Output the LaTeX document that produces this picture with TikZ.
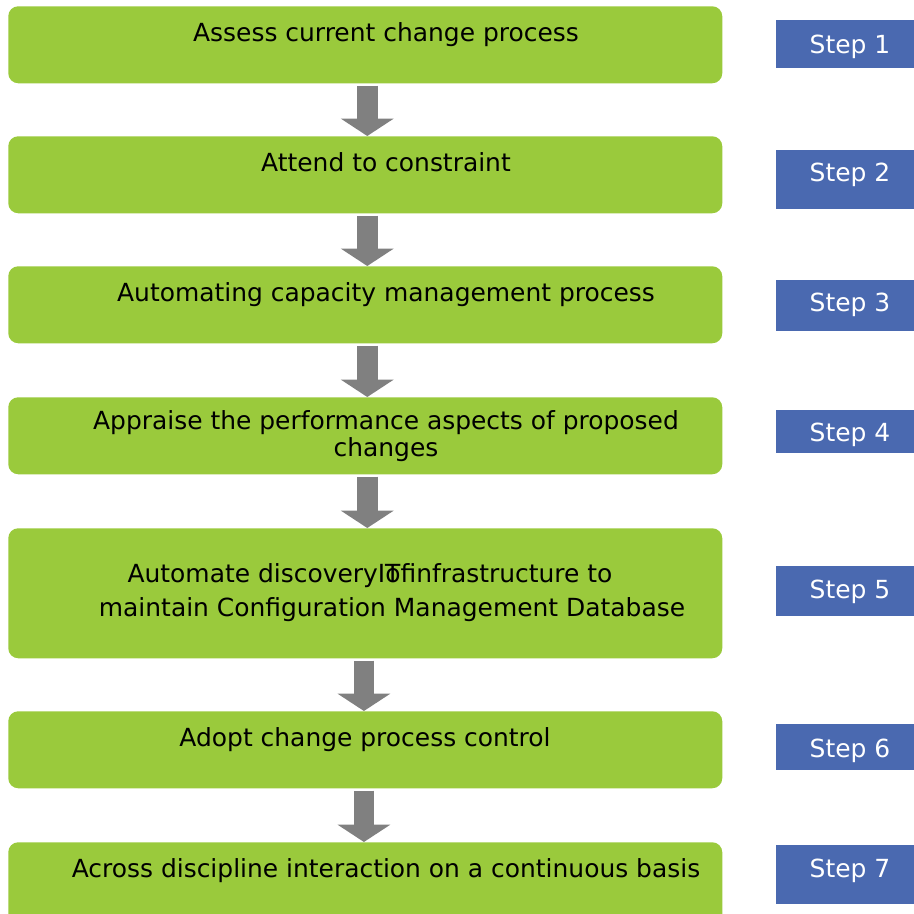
\documentclass[tikz,border=0pt]{standalone}
\usepackage{fontspec}
\setmainfont{DejaVu Sans}
\usetikzlibrary{arrows.meta}
\definecolor{boxgreen}{HTML}{9ACA3C}
\definecolor{stepblue}{HTML}{4A69B0}
\definecolor{arrowgray}{HTML}{808080}
\tikzset{
  greenbox/.style={fill=boxgreen, draw=none, rounded corners=7.5pt, inner sep=0pt, anchor=north west},
  stepbox/.style={fill=stepblue, draw=none, inner sep=0pt, anchor=north west},
  boxtext/.style={anchor=base, inner sep=0pt, font=\fontsize{18.7pt}{22pt}\selectfont, text=black},
  steptext/.style={anchor=base, inner sep=0pt, font=\fontsize{18.7pt}{22pt}\selectfont, text=white},
  flowarrow/.style={draw=arrowgray, line width=15.5pt, shorten <=1.5pt,
    -{Triangle[width=39pt, length=13pt]}},
}
\begin{document}
\begin{tikzpicture}[x=0.75pt,y=-0.75pt]
\useasboundingbox (0,0) rectangle (914,914);
\clip (0,0) rectangle (914,914);
% green boxes
\node[greenbox, minimum width=535.5pt, minimum height=57.75pt] (b1) at (8,6) {};
\node[greenbox, minimum width=535.5pt, minimum height=57.75pt] (b2) at (8,136) {};
\node[greenbox, minimum width=535.5pt, minimum height=57.75pt] (b3) at (8,266) {};
\node[greenbox, minimum width=535.5pt, minimum height=57.75pt] (b4) at (8,397) {};
\node[greenbox, minimum width=535.5pt, minimum height=97.5pt] (b5) at (8,528) {};
\node[greenbox, minimum width=535.5pt, minimum height=57.75pt] (b6) at (8,711) {};
\node[greenbox, minimum width=535.5pt, minimum height=70pt] (b7) at (8,842) {};
% texts
\node[boxtext] (t1) at (386,41) {Assess current change process};
\node[boxtext] (t2) at (386,171) {Attend to constraint};
\node[boxtext] (t3) at (386,301) {Automating capacity management process};
\node[boxtext] (t4a) at (386,429) {Appraise the performance aspects of proposed};
\node[boxtext] (t4b) at (386,456) {changes};
\node[boxtext] (t5a) at (370,582) {Automate discoveryI\rlap{T}ofinfrastructure to};
\node[boxtext] (t5b) at (392,616) {maintain Configuration Management Database};
\node[boxtext] (t6) at (365,746) {Adopt change process control};
\node[boxtext] (t7) at (386,877) {Across discipline interaction on a continuous basis};
% step boxes
\node[stepbox, minimum width=105pt, minimum height=36pt] (s1) at (776,20) {};
\node[stepbox, minimum width=105pt, minimum height=44.25pt] (s2) at (776,150) {};
\node[stepbox, minimum width=105pt, minimum height=38.25pt] (s3) at (776,280) {};
\node[stepbox, minimum width=105pt, minimum height=32.25pt] (s4) at (776,410) {};
\node[stepbox, minimum width=105pt, minimum height=37.5pt] (s5) at (776,566) {};
\node[stepbox, minimum width=105pt, minimum height=34.5pt] (s6) at (776,724) {};
\node[stepbox, minimum width=105pt, minimum height=44.25pt] (s7) at (776,845) {};
\node[steptext] (l1) at (850,53) {Step 1};
\node[steptext] (l2) at (850,181) {Step 2};
\node[steptext] (l3) at (850,311) {Step 3};
\node[steptext] (l4) at (850,441) {Step 4};
\node[steptext] (l5) at (850,598) {Step 5};
\node[steptext] (l6) at (850,757) {Step 6};
\node[steptext] (l7) at (850,877) {Step 7};
% arrows
\draw[flowarrow] ([xshift=1.5pt]b1.south) -- ([xshift=1.5pt]b2.north);
\draw[flowarrow] ([xshift=1.5pt]b2.south) -- ([xshift=1.5pt]b3.north);
\draw[flowarrow] ([xshift=1.5pt]b3.south) -- ([xshift=1.5pt]b4.north);
\draw[flowarrow] ([xshift=1.5pt]b4.south) -- ([xshift=1.5pt]b5.north);
\draw[flowarrow] ([xshift=-1pt]b5.south) -- ([xshift=-1pt]b6.north);
\draw[flowarrow] ([xshift=-1pt]b6.south) -- ([xshift=-1pt]b7.north);
\end{tikzpicture}
\end{document}
